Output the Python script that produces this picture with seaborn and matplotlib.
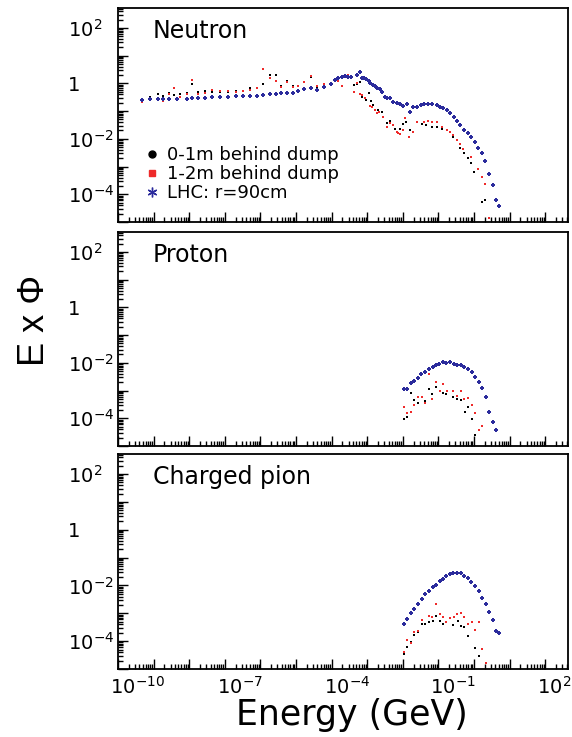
import matplotlib
matplotlib.use("Agg")

import matplotlib.pyplot as plt
import matplotlib.transforms as mtransforms
from matplotlib.lines import Line2D
from matplotlib.ticker import LogLocator, FuncFormatter, NullFormatter
import numpy as np
import pandas as pd
import seaborn as sns

# ─── DATA (log10 of energy in GeV, log10 of E x phi) ─────────────
# Neutron
neutron_lhc_logE = [-9.32, -9.10, -8.89, -8.75, -8.56, -8.35, -8.07, -7.91, -7.74, -7.56,
                    -7.35, -7.14, -6.90, -6.69, -6.48, -6.29, -6.10, -5.92, -5.73, -5.57,
                    -5.42, -5.26, -5.08, -4.94, -4.77, -4.59, -4.42, -4.21, -4.02, -3.90,
                    -3.81, -3.72, -3.62, -3.53, -3.46, -3.30, -3.20, -3.14, -3.08, -3.02,
                    -2.95, -2.92, -2.85, -2.78, -2.72, -2.64, -2.59, -2.50, -2.44, -2.36,
                    -2.27, -2.17, -2.08, -1.99, -1.89, -1.80, -1.70, -1.61, -1.50, -1.40,
                    -1.28, -1.17, -1.05, -0.96, -0.86, -0.77, -0.67, -0.56, -0.47, -0.38,
                    -0.28, -0.18, -0.09, 0.03, 0.10, 0.22, 0.31, 0.42, 0.52, 0.62, 0.71]
neutron_lhc_logF = [-0.60, -0.58, -0.56, -0.57, -0.58, -0.56, -0.55, -0.53, -0.52, -0.52,
                    -0.49, -0.49, -0.49, -0.47, -0.46, -0.44, -0.44, -0.41, -0.37, -0.37,
                    -0.36, -0.33, -0.36, -0.29, -0.19, -0.18, -0.23, -0.12, -0.02, 0.12,
                    0.20, 0.22, 0.27, 0.24, 0.24, 0.30, 0.40, 0.21, 0.18, 0.16,
                    0.09, 0.00, -0.06, -0.08, -0.18, -0.21, -0.30, -0.48, -0.52, -0.54,
                    -0.66, -0.70, -0.74, -0.82, -0.76, -1.02, -0.86, -0.84, -0.78, -0.76,
                    -0.74, -0.76, -0.78, -0.84, -0.90, -0.96, -1.08, -1.20, -1.36, -1.50,
                    -1.68, -1.80, -1.92, -2.10, -2.34, -2.52, -2.80, -3.27, -3.67, -4.21, -4.43]

neutron_d01_logE = [-9.32, -9.10, -8.89, -8.75, -8.56, -8.42, -8.26, -8.07, -7.91, -7.74,
                    -7.56, -7.35, -7.14, -6.90, -6.69, -6.48, -6.29, -6.10, -5.92, -5.73,
                    -5.57, -5.42, -5.26, -5.08, -4.94, -4.77, -4.59, -4.42, -4.21, -4.02,
                    -3.90, -3.81, -3.72, -3.62, -3.53, -3.46, -3.36, -3.30, -3.20, -3.16,
                    -3.02, -2.95, -2.89, -2.83, -2.71, -2.59, -2.44, -2.36, -2.22, -2.08,
                    -1.99, -1.91, -1.80, -1.59, -1.47, -1.35, -1.19, -1.05, -0.91, -0.77,
                    -0.58, -0.39, -0.28, -0.16, -0.09, 0.00, 0.22, 0.31]
neutron_d01_logF = [-0.56, -0.48, -0.40, -0.46, -0.36, -0.42, -0.40, -0.34, -0.03, -0.30,
                    -0.26, -0.32, -0.30, -0.30, -0.27, -0.27, -0.15, -0.18, -0.02, 0.30,
                    0.32, -0.08, 0.09, -0.09, -0.08, 0.06, 0.24, -0.15, -0.02, 0.00,
                    0.12, 0.09, -0.09, 0.24, 0.28, 0.20, -0.06, -0.02, 0.05, -0.48,
                    -0.60, -0.36, -0.62, -0.78, -0.96, -1.02, -1.44, -1.35, -1.66, -1.66,
                    -1.47, -1.38, -1.68, -1.38, -1.47, -1.50, -1.59, -1.56, -1.65, -1.68,
                    -1.95, -2.32, -2.50, -2.68, -2.86, -3.19, -4.27, -4.19]

neutron_d12_logE = [-9.32, -9.10, -8.89, -8.75, -8.56, -8.42, -8.26, -8.07, -7.91, -7.74,
                    -7.56, -7.35, -7.14, -6.90, -6.69, -6.48, -6.29, -6.10, -5.92, -5.73,
                    -5.57, -5.42, -5.26, -5.08, -4.94, -4.77, -4.59, -4.42, -4.21, -4.02,
                    -3.90, -3.81, -3.72, -3.62, -3.53, -3.46, -3.37, -3.30, -3.20, -3.14,
                    -3.06, -2.92, -2.86, -2.78, -2.73, -2.67, -2.55, -2.44, -2.36, -2.27,
                    -2.17, -2.13, -2.08, -2.00, -1.94, -1.82, -1.70, -1.59, -1.41, -1.28,
                    -1.17, -1.05, -0.91, -0.77, -0.67, -0.58, -0.49, -0.39, -0.30, -0.09,
                    0.10, 0.22, 0.31, 0.43]
neutron_d12_logF = [-0.66, -0.51, -0.52, -0.64, -0.37, -0.18, -0.48, -0.40, 0.12, -0.40,
                    -0.36, -0.24, -0.27, -0.27, -0.30, -0.26, -0.24, -0.15, 0.52, 0.18,
                    0.10, -0.12, 0.06, -0.12, -0.08, 0.04, 0.27, -0.08, -0.02, 0.00,
                    0.15, 0.09, -0.09, 0.24, 0.30, 0.22, -0.30, 0.00, -0.40, -0.42,
                    -0.52, -0.82, -0.86, -0.96, -1.08, -1.02, -1.20, -1.56, -1.44, -1.50,
                    -1.74, -1.80, -1.83, -1.68, -1.26, -1.92, -1.74, -1.38, -1.38, -1.36,
                    -1.38, -1.38, -1.56, -1.68, -1.74, -1.86, -2.04, -2.20, -2.37, -2.64,
                    -3.09, -3.37, -3.63, -4.85]

# Proton
proton_lhc_logE = [-1.97, -1.89, -1.77, -1.69, -1.57, -1.48, -1.37, -1.27, -1.16, -1.08,
                   -0.97, -0.87, -0.79, -0.67, -0.57, -0.47, -0.37, -0.27, -0.18, -0.07,
                   0.03, 0.14, 0.23, 0.34, 0.42, 0.52, 0.63]
proton_lhc_logF = [-2.95, -2.95, -2.73, -2.66, -2.55, -2.42, -2.33, -2.24, -2.15, -2.09,
                   -2.03, -1.97, -2.01, -1.97, -2.03, -2.07, -2.09, -2.15, -2.24, -2.34,
                   -2.50, -2.69, -2.91, -3.24, -3.76, -4.15, -4.44]
proton_d01_logE = [-1.97, -1.88, -1.77, -1.69, -1.57, -1.37, -1.27, -1.17, -1.08, -0.96,
                   -0.87, -0.79, -0.58, -0.47, -0.37, -0.25, -0.18, -0.07, 0.03]
proton_d01_logF = [-4.04, -3.95, -3.10, -3.34, -3.46, -3.37, -2.95, -3.14, -2.86, -3.01,
                   -3.10, -3.14, -3.22, -3.32, -3.34, -3.76, -3.61, -4.01, -4.61]
proton_d12_logE = [-1.97, -1.88, -1.77, -1.69, -1.57, -1.47, -1.37, -1.27, -1.17, -1.08,
                   -0.96, -0.87, -0.77, -0.58, -0.47, -0.37, -0.27, -0.18, -0.07, 0.03,
                   0.14, 0.23]
proton_d12_logF = [-3.58, -3.80, -3.76, -3.52, -3.22, -3.25, -3.44, -2.42, -3.30, -2.68,
                   -3.01, -2.77, -3.03, -3.01, -3.20, -3.01, -3.31, -3.28, -3.52, -3.80,
                   -4.43, -4.28]

# Charged pion
pion_lhc_logE = [-1.97, -1.87, -1.77, -1.68, -1.56, -1.47, -1.37, -1.27, -1.16, -1.07,
                 -0.96, -0.87, -0.78, -0.67, -0.58, -0.48, -0.37, -0.27, -0.18, -0.08,
                 0.03, 0.14, 0.23, 0.34, 0.42, 0.52, 0.63, 0.71]
pion_lhc_logF = [-3.37, -3.19, -2.99, -2.85, -2.66, -2.50, -2.32, -2.19, -2.07, -1.98,
                 -1.85, -1.76, -1.67, -1.59, -1.54, -1.54, -1.57, -1.65, -1.74, -1.86,
                 -2.01, -2.19, -2.45, -2.68, -2.95, -3.25, -3.63, -3.72]
pion_d01_logE = [-1.97, -1.87, -1.78, -1.68, -1.56, -1.46, -1.37, -1.27, -1.16, -1.08,
                 -0.96, -0.87, -0.79, -0.58, -0.46, -0.37, -0.27, -0.18, 0.03, 0.14]
pion_d01_logF = [-4.47, -4.22, -4.03, -3.79, -3.66, -3.38, -3.38, -3.33, -3.27, -3.09,
                 -3.26, -3.40, -3.33, -3.43, -3.27, -3.44, -3.49, -3.81, -4.26, -4.54]
pion_d12_logE = [-1.97, -1.89, -1.77, -1.68, -1.57, -1.47, -1.27, -1.17, -1.08, -0.96,
                 -0.87, -0.79, -0.67, -0.57, -0.48, -0.37, -0.27, -0.18, -0.07, 0.03,
                 0.14, 0.23, 0.34]
pion_d12_logF = [-4.38, -3.96, -4.08, -3.66, -3.63, -3.24, -3.09, -3.12, -2.67, -3.02,
                 -3.14, -3.33, -3.18, -3.14, -3.03, -2.99, -3.12, -3.39, -3.30, -3.60,
                 -3.33, -4.27, -4.78]

PANELS = ["Neutron", "Proton", "Charged pion"]
SERIES = ["0-1m behind dump", "1-2m behind dump", "LHC: r=90cm"]

# ─── STYLE ───────────────────────────────────────────────────────
BLACK = "#000000"
RED   = "#ee2a2a"
BLUE  = "#2b2b9c"

sns.set_style("ticks")
plt.rcParams.update({
    "font.family": ["DejaVu Sans"],
    "axes.linewidth": 1.3,
    "axes.edgecolor": "black",
    "text.color": "black", "axes.labelcolor": "black",
    "xtick.color": "black", "ytick.color": "black",
    "xtick.labelcolor": "black", "ytick.labelcolor": "black",
})

# ─── TIDY TABLE ──────────────────────────────────────────────────
raw = {
    ("Neutron", SERIES[0]): (neutron_d01_logE, neutron_d01_logF),
    ("Neutron", SERIES[1]): (neutron_d12_logE, neutron_d12_logF),
    ("Neutron", SERIES[2]): (neutron_lhc_logE, neutron_lhc_logF),
    ("Proton", SERIES[0]): (proton_d01_logE, proton_d01_logF),
    ("Proton", SERIES[1]): (proton_d12_logE, proton_d12_logF),
    ("Proton", SERIES[2]): (proton_lhc_logE, proton_lhc_logF),
    ("Charged pion", SERIES[0]): (pion_d01_logE, pion_d01_logF),
    ("Charged pion", SERIES[1]): (pion_d12_logE, pion_d12_logF),
    ("Charged pion", SERIES[2]): (pion_lhc_logE, pion_lhc_logF),
}
frames = []
for (panel, series), (le, lf) in raw.items():
    frames.append(pd.DataFrame({"panel": panel, "series": series,
                                "energy": np.power(10.0, le), "flux": np.power(10.0, lf)}))
df = pd.concat(frames, ignore_index=True)

STYLE = {
    SERIES[0]: dict(color=BLACK, marker="s", s=2.5),
    SERIES[1]: dict(color=RED, marker="s", s=3.2),
    SERIES[2]: dict(color=BLUE, marker="P", s=5),
}

# ─── FIGURE ──────────────────────────────────────────────────────
W, H = 572, 737
fig = plt.figure(figsize=(W / 100, H / 100), dpi=100)
left, width = 118 / W, 450 / W
panel_px = [(8, 222), (232, 446), (454, 669)]
axes = [fig.add_axes([left, 1 - b / H, width, (b - t) / H]) for t, b in panel_px]

XLABELS = {-10: r"$10^{-10}$", -7: r"$10^{-7}$", -4: r"$10^{-4}$", -1: r"$10^{-1}$", 2: r"$10^{2}$"}
YLABELS = {2: r"$10^{2}$", 0: "1", -2: r"$10^{-2}$", -4: r"$10^{-4}$"}

def fmt_from(d):
    def f(v, pos):
        e = int(round(np.log10(v)))
        return d.get(e, "")
    return FuncFormatter(f)

for i, (ax, panel) in enumerate(zip(axes, PANELS)):
    sub = df[df["panel"] == panel]
    for series in SERIES:
        st = STYLE[series]
        sns.scatterplot(data=sub[sub["series"] == series], x="energy", y="flux",
                        color=st["color"], marker=st["marker"], s=st["s"],
                        linewidth=0, ax=ax, legend=False, zorder=3)
    ax.set_xscale("log")
    ax.set_yscale("log")
    ax.set_xlim(1e-10, 10 ** 2.64)
    ax.set_ylim(1e-5, 10 ** 2.72)
    ax.set_xlabel("")
    ax.set_ylabel("")

    ax.xaxis.set_major_locator(LogLocator(base=10, numticks=30))
    ax.xaxis.set_minor_locator(LogLocator(base=10, subs=np.arange(2, 10), numticks=300))
    ax.yaxis.set_major_locator(LogLocator(base=10, numticks=30))
    ax.yaxis.set_minor_locator(LogLocator(base=10, subs=np.arange(2, 10), numticks=300))
    ax.xaxis.set_minor_formatter(NullFormatter())
    ax.yaxis.set_minor_formatter(NullFormatter())
    ax.yaxis.set_major_formatter(fmt_from(YLABELS))
    if i == 2:
        ax.xaxis.set_major_formatter(fmt_from(XLABELS))
    else:
        ax.xaxis.set_major_formatter(NullFormatter())

    ax.tick_params(which="both", direction="in", top=False, right=False, width=1)
    ax.tick_params(which="major", length=7)
    ax.tick_params(which="minor", length=3.5)
    ax.tick_params(axis="y", which="major", pad=36, labelsize=14)
    ax.tick_params(axis="x", which="major", pad=5, labelsize=14)
    for lab in ax.get_yticklabels():
        lab.set_ha("left")

    ax.text(0.078, 0.893, panel, transform=ax.transAxes, fontsize=17,
            ha="left", va="center", color="black")

# x tick labels: "10" centred on the tick, exponent to the right
shift = mtransforms.ScaledTranslation(-8 / 100, 0, fig.dpi_scale_trans)
for lab in axes[2].get_xticklabels():
    lab.set_ha("left")
    lab.set_transform(lab.get_transform() + shift)

# legend in the neutron panel
handles = [
    Line2D([], [], ls="", marker="o", color=BLACK, markersize=5),
    Line2D([], [], ls="", marker="s", color=RED, markersize=5),
    Line2D([], [], ls="", marker=(6, 2, 0), color=BLUE, markersize=7, markeredgewidth=1),
]
leg = axes[0].legend(handles, SERIES, loc="upper left", bbox_to_anchor=(0.0556, 0.355),
                     frameon=False, fontsize=13, handlelength=1.0, handletextpad=0.33,
                     borderpad=0, borderaxespad=0, labelspacing=0.05)
for t in leg.get_texts():
    t.set_color("black")

fig.text(352 / W, 1 - 725 / H, "Energy (GeV)", ha="center", va="baseline", fontsize=25,
         color="black")
fig.text(34 / W, 1 - 320 / H, "E x \u03a6", rotation=90, ha="center", va="center",
         fontsize=26, color="black", family=["Liberation Sans", "DejaVu Sans"])

fig.savefig("out.png", dpi=100)
plt.close(fig)
